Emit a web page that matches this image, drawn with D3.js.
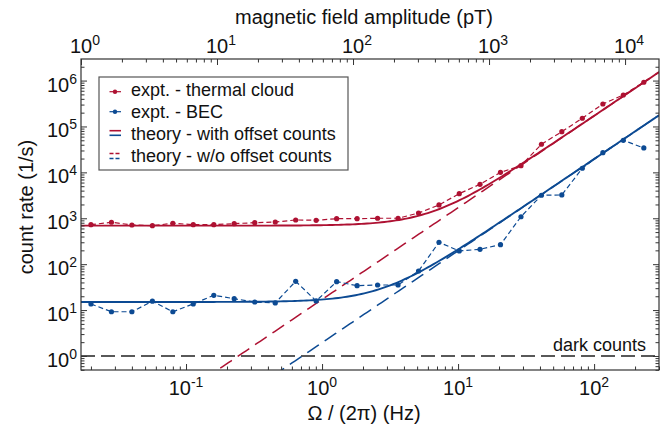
<!DOCTYPE html>
<html><head><meta charset="utf-8">
<script src="https://cdn.jsdelivr.net/npm/d3@7"></script>
<style>
html,body{margin:0;padding:0;background:#fff;}
svg{display:block;font-family:"Liberation Sans",Arial,sans-serif;}
</style></head>
<body>
<svg id="chart" width="671" height="424"></svg>
<script>
// ---- data ----
const freq = [0.02, 0.0283, 0.04, 0.0566, 0.08, 0.113, 0.16, 0.226, 0.32, 0.453, 0.64, 0.905,
  1.28, 1.81, 2.56, 3.62, 5.12, 7.24, 10.2, 14.5, 20.5, 29.0, 41.0, 57.9, 81.9, 116, 164, 232];
const thermal = [726, 819, 714, 690, 778, 726, 726, 763, 802, 830, 918, 904, 980, 980, 1000, 1000,
  1300, 1950, 3440, 5500, 10000, 14000, 41000, 77000, 151000, 309000, 485000, 918000];
const bec = [13.6, 9.2, 9.2, 15.6, 9.2, 13.6, 21, 17.7, 15.0, 14.3, 42.4, 15.8, 41.6, 34, 35.2, 35.2,
  71, 300, 194, 211, 266, 1080, 3170, 3220, 12300, 26900, 50000, 34000];
// theory: rate = amp * f^2 (+ offset)
const theoryAmp = {thermal: 17, bec: 1.95};
const theoryOffset = {thermal: 690, bec: 15};
const darkCounts = 1;
const xTickExp = [-1, 0, 1, 2];
const topTickExp = [0, 1, 2, 3, 4];
const yTickExp = [0, 1, 2, 3, 4, 5, 6];
const xDomain = [0.0169, 300];
const yDomain = [0.495, 2.95e6];
const pTperHz = 59.2;
const legendLabels = ["expt. - thermal cloud", "expt. - BEC", "theory - with offset counts", "theory - w/o offset counts"];

// ---- layout ----
const red = "#ae1132", blue = "#0c4a93", axisCol = "#333";
const L = 81, R = 659, T = 59, B = 370;
const svg = d3.select("#chart");
const x = d3.scaleLog().domain(xDomain).range([L, R]);
const xTop = d3.scaleLog().domain([xDomain[0] * pTperHz, xDomain[1] * pTperHz]).range([L, R]);
const y = d3.scaleLog().domain(yDomain).range([B, T]);

function minorTicks(scale) {
  const [a, b] = scale.domain();
  const out = [];
  for (let e = Math.floor(Math.log10(a)); e <= Math.ceil(Math.log10(b)); e++) {
    for (let k = 2; k <= 9; k++) { const v = k * Math.pow(10, e); if (v >= a && v <= b) out.push(v); }
  }
  return out;
}
function majorTicks(exps, scale) {
  const [a, b] = scale.domain();
  return exps.map(e => Math.pow(10, e)).filter(v => v >= a * 0.999 && v <= b * 1.001);
}

svg.append("defs").append("clipPath").attr("id", "clip")
  .append("rect").attr("x", L).attr("y", T).attr("width", R - L).attr("height", B - T);

const plot = svg.append("g").attr("clip-path", "url(#clip)");

// dark counts
plot.append("line").attr("x1", L).attr("x2", R).attr("y1", y(darkCounts)).attr("y2", y(darkCounts))
  .attr("stroke", "#222").attr("stroke-width", 1.3).attr("stroke-dasharray", "14,6");
svg.append("text").attr("x", 646).attr("y", 351).attr("text-anchor", "end")
  .attr("font-size", 18).attr("fill", "#111").text("dark counts");

// theory curves
const fs = d3.range(0, 201).map(i => Math.pow(10, Math.log10(xDomain[0]) + i * (Math.log10(xDomain[1]) - Math.log10(xDomain[0])) / 200));
const line = d3.line().x(d => x(d[0])).y(d => y(d[1]));
[["thermal", red], ["bec", blue]].forEach(([k, c]) => {
  plot.append("path").attr("d", line(fs.map(f => [f, theoryAmp[k] * f * f])))
    .attr("fill", "none").attr("stroke", c).attr("stroke-width", 1.5).attr("stroke-dasharray", "14,7");
  plot.append("path").attr("d", line(fs.map(f => [f, theoryAmp[k] * f * f + theoryOffset[k]])))
    .attr("fill", "none").attr("stroke", c).attr("stroke-width", 1.9);
});

// experimental series
[[thermal, red], [bec, blue]].forEach(([vals, c]) => {
  const pts = freq.map((f, i) => [f, vals[i]]);
  plot.append("path").attr("d", line(pts)).attr("fill", "none").attr("stroke", c)
    .attr("stroke-width", 1.2).attr("stroke-dasharray", "5,3");
  plot.selectAll(null).data(pts).enter().append("circle")
    .attr("cx", d => x(d[0])).attr("cy", d => y(d[1])).attr("r", 2.6).attr("fill", c);
});

// ---- axes (ticks inside) ----
function drawAxis(axisFn, scale, exps, transform) {
  const g1 = svg.append("g").attr("transform", transform)
    .call(axisFn(scale).tickValues(majorTicks(exps, scale)).tickSize(-6).tickFormat(""));
  const g2 = svg.append("g").attr("transform", transform)
    .call(axisFn(scale).tickValues(minorTicks(scale)).tickSize(-3.5).tickFormat(""));
  [g1, g2].forEach(g => {
    g.select(".domain").remove();
    g.selectAll("line").attr("stroke", axisCol).attr("stroke-width", 1);
  });
}
drawAxis(d3.axisBottom, x, xTickExp, `translate(0,${B})`);
drawAxis(d3.axisTop, xTop, topTickExp, `translate(0,${T})`);
drawAxis(d3.axisLeft, y, yTickExp, `translate(${L},0)`);
drawAxis(d3.axisRight, y, yTickExp, `translate(${R},0)`);

svg.append("rect").attr("x", L).attr("y", T).attr("width", R - L).attr("height", B - T)
  .attr("fill", "none").attr("stroke", axisCol).attr("stroke-width", 1.2);

function powLabel(sel, e) {
  sel.append("tspan").text("10");
  sel.append("tspan").attr("font-size", 14).attr("dy", -8).text(e < 0 ? "-" + (-e) : String(e));
}
xTickExp.forEach(e => {
  const t = svg.append("text").attr("x", x(Math.pow(10, e))).attr("y", 395)
    .attr("text-anchor", "middle").attr("font-size", 20).attr("fill", "#111");
  powLabel(t, e);
});
topTickExp.forEach(e => {
  const t = svg.append("text").attr("x", xTop(Math.pow(10, e)) + 4).attr("y", 53)
    .attr("text-anchor", "middle").attr("font-size", 20).attr("fill", "#111");
  powLabel(t, e);
});
yTickExp.forEach(e => {
  const t = svg.append("text").attr("x", 77).attr("y", y(Math.pow(10, e)) + 11)
    .attr("text-anchor", "end").attr("font-size", 20).attr("fill", "#111");
  powLabel(t, e);
});

// titles
svg.append("text").attr("x", 364).attr("y", 420).attr("text-anchor", "middle")
  .attr("font-size", 20).attr("fill", "#111").text("Ω / (2π) (Hz)");
svg.append("text").attr("x", 364).attr("y", 24).attr("text-anchor", "middle")
  .attr("font-size", 20).attr("fill", "#111").text("magnetic field amplitude (pT)");
svg.append("text").attr("transform", "translate(33,207) rotate(-90)").attr("text-anchor", "middle")
  .attr("font-size", 20).attr("fill", "#111").text("count rate (1/s)");

// legend
const lg = svg.append("g");
lg.append("rect").attr("x", 99).attr("y", 77).attr("width", 249).attr("height", 93)
  .attr("fill", "#fff").attr("stroke", "#555").attr("stroke-width", 1.2);
legendLabels.forEach((lab, i) => {
  lg.append("text").attr("x", 131).attr("y", 96 + i * 21.9).attr("font-size", 18)
    .attr("fill", "#111").text(lab);
});
[[red, 91.7], [blue, 111.7]].forEach(([c, yy]) => {
  lg.append("line").attr("x1", 109.5).attr("x2", 121).attr("y1", yy).attr("y2", yy)
    .attr("stroke", c).attr("stroke-width", 1.2);
  lg.append("circle").attr("cx", 115).attr("cy", yy).attr("r", 2.2).attr("fill", c);
});
[[red, 130.7, null], [blue, 135.3, null], [red, 153.5, "4,2"], [blue, 158.5, "4,2"]].forEach(([c, yy, da]) => {
  lg.append("line").attr("x1", 109.5).attr("x2", 121).attr("y1", yy).attr("y2", yy)
    .attr("stroke", c).attr("stroke-width", 1.6).attr("stroke-dasharray", da);
});
</script>
</body></html>
